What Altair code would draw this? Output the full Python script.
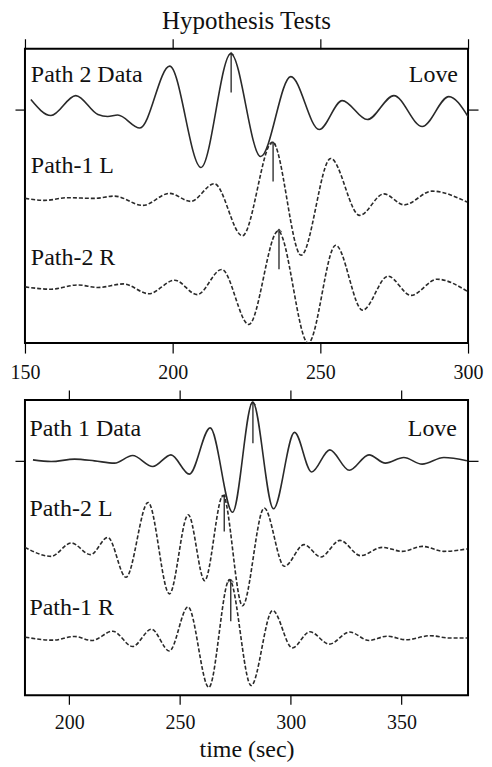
import altair as alt
import pandas as pd

FONT = "Liberation Serif"
INK = "#2a2a2a"

# ---------------- top panel (Path 2 event), time axis 150-300 s ----------------
TOP_XTICKS = [150, 200, 250, 300]
TOP_BASE = {"data": 234, "L": 144, "R": 56.3}

P2_DATA_T = [152, 158.8, 167.2, 174.7, 178, 181.4, 188.9, 199, 209.6, 219.7, 229.8,
             240, 249.6, 257.4, 265.9, 274.9, 284.5, 293.5, 300]
P2_DATA_A = [10, -6, 14, -5, -7, -5.5, -18.5, 43.5, -58, 56, -47,
             33, -20, 9, -10, 14, -17, 13, -7]

P1L_T = [150.1, 156.7, 164.5, 173.5, 180.3, 189.9, 198.9, 206.1, 214.1, 223.6,
         233.8, 243.5, 253.5, 263.3, 271.5, 278.4, 287.8, 299.7]
P1L_A = [1, -1, 1.7, 1, 3.3, -6, 6, -2, 15.7, -36.5,
         57.5, -56, 41, -16, 5.5, -5.5, 8.3, -2.7]

P2R_T = [150.1, 158.9, 167.9, 174.7, 183.4, 191.9, 200.7, 208.3, 216.6, 225.8,
         235.7, 245.9, 255.2, 264.3, 272.9, 280.7, 289.5, 299.7]
P2R_A = [0, -2.3, 2, -0.6, 3, -6.8, 6.7, -7.7, 17.5, -37.6,
         56, -56.3, 41.7, -23.3, 10.7, -8.5, 7.7, -4.3]

TOP_MARK_T = [219.8, 234.0, 236.0]
TOP_MARK_KEY = ["data", "L", "R"]
TOP_MARK_LO = [17, 18, 17.7]
TOP_MARK_HI = [57, 57.5, 57.7]

TOP_LABELS = ["Path 2 Data", "Path-1 L", "Path-2 R"]
TOP_LABEL_Y = [262, 170.7, 78.3]

# ---------------- bottom panel (Path 1 event), time axis 180-380 s ----------------
BOT_XTICKS = [200, 250, 300, 350]
BOT_BASE = {"data": 235, "L": 148.3, "R": 58.3}

P1_DATA_T = [183.6, 191.8, 202.4, 211.4, 220.4, 228.6, 237.7, 245.9, 254.2, 263.6,
             273.7, 282.8, 292.2, 301.7, 309.4, 317.6, 326.4, 335.3, 342.7, 351.0,
             359.3, 369.1, 379.5]
P1_DATA_A = [1, -0.7, 1.7, 0, -2.3, 5.3, -5.7, 6, -13.3, 33,
             -51.5, 59, -48, 28.5, -11.2, 11, -9.5, 6, -2.3, 3.3,
             -3.3, 3.3, 0]

P2L_T = [180, 191.8, 200.9, 209.6, 217.4, 225.6, 235.6, 245.2, 253.7, 261.1,
         269.4, 278.2, 288.0, 297.1, 306.0, 313.5, 322.2, 331.5, 341.3, 350.3,
         359.3, 369.1, 379.5]
P2L_A = [0, -9, 4.4, -7.3, 10, -30, 45, -46.6, 32.7, -33.3,
         52, -58.5, 39.4, -19, 2.7, -9.6, 7, -8.3, 0, -4,
         1, -4, -1.6]

P1R_T = [180.2, 192.6, 202.4, 210.2, 219.6, 228.6, 237.1, 245.2, 253.6, 263.0,
         272.3, 282.1, 291.8, 300.7, 308.6, 317.4, 326.5, 335.3, 343.5, 352.1,
         363.0, 371.4, 379.5]
P1R_A = [0, -3, 0.7, -3.3, 6, -9.3, 8, -13.8, 30.3, -50.3,
         57.7, -48.5, 26.8, -10.7, 5.4, -7, 5.2, -3.3, 1, -2.6,
         1.5, -0.8, -0.8]

BOT_MARK_T = [282.9, 269.95, 272.9]
BOT_MARK_KEY = ["data", "L", "R"]
BOT_MARK_LO = [17.7, 16, 16]
BOT_MARK_HI = [58.5, 52.7, 57.7]

BOT_LABELS = ["Path 1 Data", "Path-2 L", "Path-1 R"]
BOT_LABEL_Y = [260.3, 179.3, 80.3]


def trace(t, a, base, name):
    return pd.DataFrame({"t": t, "y": [base + v for v in a], "trace": name})


def panel(traces_solid, traces_dash, marks, labels, love_xy, xdom, xticks, ydom,
          ybase, title, bottom_tick, label_pad):
    xs = alt.Scale(domain=xdom, nice=False, zero=False)
    ys = alt.Scale(domain=ydom, nice=False, zero=False)

    axis_kw = dict(tickColor="black", tickWidth=1.2, domain=False, grid=False)
    bottom_args = dict(values=xticks, tickSize=bottom_tick, labelFontSize=20, labelFont=FONT,
                       labelColor="#111", labelPadding=label_pad, labelFlush=False,
                       labelOverlap=False, **axis_kw)
    if title:
        bottom_args.update(title=title, titleFont=FONT, titleFontSize=24,
                           titleFontWeight="normal", titleColor="#111", titlePadding=5)
    else:
        bottom_args.update(title=None)
    bottom_axis = alt.Axis(**bottom_args)
    top_axis = alt.Axis(values=xticks, orient="top", tickSize=10, labels=False, title=None,
                        **axis_kw)
    left_axis = alt.Axis(values=[ybase], tickSize=10, labels=False, title=None, **axis_kw)
    right_axis = alt.Axis(values=[ybase], orient="right", tickSize=10, labels=False,
                          title=None, **axis_kw)

    solid = alt.Chart(traces_solid).mark_line(
        color=INK, strokeWidth=1.6, interpolate="monotone", clip=True
    ).encode(
        x=alt.X("t:Q", scale=xs, axis=bottom_axis),
        y=alt.Y("y:Q", scale=ys, axis=left_axis),
        detail="trace:N",
    )
    dashed = alt.Chart(traces_dash).mark_line(
        color=INK, strokeWidth=1.6, strokeDash=[4, 2], interpolate="monotone", clip=True
    ).encode(
        x=alt.X("t:Q", scale=xs, axis=None),
        y=alt.Y("y:Q", scale=ys, axis=None),
        detail="trace:N",
    )
    rules = alt.Chart(marks).mark_rule(color="#222", strokeWidth=1.3).encode(
        x=alt.X("t:Q", scale=xs, axis=top_axis),
        y=alt.Y("lo:Q", scale=ys, axis=right_axis),
        y2="hi:Q",
    )
    heads = alt.Chart(marks).mark_point(
        shape="M-1,1L0,0L1,1", size=30, color="#222", strokeWidth=1.2, filled=False
    ).encode(
        x=alt.X("t:Q", scale=xs, axis=None),
        y=alt.Y("hi:Q", scale=ys, axis=None),
    )
    text_left = alt.Chart(labels).mark_text(
        align="left", baseline="alphabetic", font=FONT, fontSize=24, color="#111"
    ).encode(
        x=alt.X("t:Q", scale=xs, axis=None),
        y=alt.Y("y:Q", scale=ys, axis=None),
        text="label:N",
    )
    text_right = alt.Chart(love_xy).mark_text(
        align="right", baseline="alphabetic", font=FONT, fontSize=24, color="#111"
    ).encode(
        x=alt.X("t:Q", scale=xs, axis=None),
        y=alt.Y("y:Q", scale=ys, axis=None),
        text="label:N",
    )
    return alt.layer(solid, dashed, rules, heads, text_left, text_right).resolve_axis(
        x="independent", y="independent"
    ).properties(width=444, height=ydom[1])


def marks_df(ts, keys, lo, hi, bases):
    return pd.DataFrame({
        "t": ts,
        "lo": [bases[k] + v for k, v in zip(keys, lo)],
        "hi": [bases[k] + v for k, v in zip(keys, hi)],
    })


top = panel(
    trace(P2_DATA_T, P2_DATA_A, TOP_BASE["data"], "data"),
    pd.concat([trace(P1L_T, P1L_A, TOP_BASE["L"], "L"),
               trace(P2R_T, P2R_A, TOP_BASE["R"], "R")]),
    marks_df(TOP_MARK_T, TOP_MARK_KEY, TOP_MARK_LO, TOP_MARK_HI, TOP_BASE),
    pd.DataFrame({"t": [152.0] * 3, "y": TOP_LABEL_Y, "label": TOP_LABELS}),
    pd.DataFrame({"t": [296.6], "y": [262], "label": ["Love"]}),
    [150, 300], TOP_XTICKS, [0, 295], TOP_BASE["data"], None, 10, 9,
)

bottom = panel(
    trace(P1_DATA_T, P1_DATA_A, BOT_BASE["data"], "data"),
    pd.concat([trace(P2L_T, P2L_A, BOT_BASE["L"], "L"),
               trace(P1R_T, P1R_A, BOT_BASE["R"], "R")]),
    marks_df(BOT_MARK_T, BOT_MARK_KEY, BOT_MARK_LO, BOT_MARK_HI, BOT_BASE),
    pd.DataFrame({"t": [182.0] * 3, "y": BOT_LABEL_Y, "label": BOT_LABELS}),
    pd.DataFrame({"t": [375.0], "y": [260.3], "label": ["Love"]}),
    [180, 380], BOT_XTICKS, [0, 296], BOT_BASE["data"], "time (sec)", 9, 8,
)

chart = alt.vconcat(top, bottom, spacing=5).properties(
    title=alt.TitleParams("Hypothesis Tests", font=FONT, fontSize=25, fontWeight="normal",
                          color="#111", anchor="middle", offset=3),
    padding={"left": 1, "top": 0, "right": 0, "bottom": 0},
).configure(font=FONT).configure_view(stroke="black", strokeWidth=2)

chart.save("out.html", embed_options={"renderer": "svg", "actions": False})
